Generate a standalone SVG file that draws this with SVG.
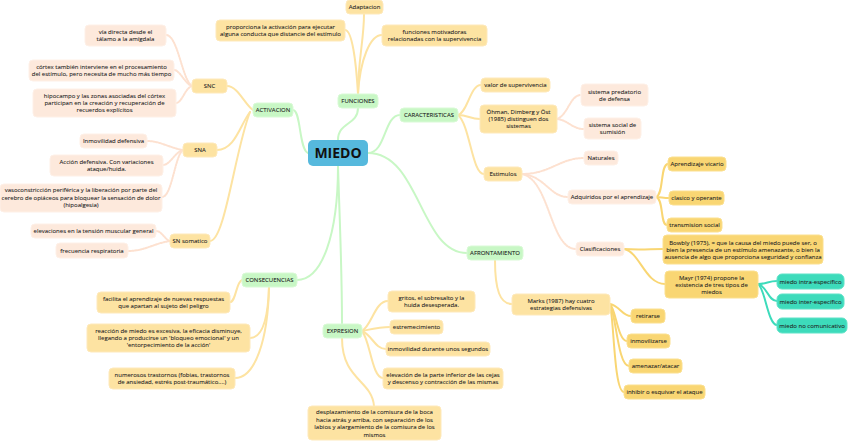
<svg xmlns="http://www.w3.org/2000/svg" width="848" height="441" viewBox="0 0 848 441">
<style>
.t{font-family:"Open Sans","Liberation Sans",sans-serif;font-size:6px;fill:#222;text-anchor:middle;stroke:#222;stroke-width:0.08}
.n1 rect{fill:#c8f7c5;stroke:#d9fad6;stroke-width:1}
.n2 rect{fill:#fde3a2;stroke:#fee9bb;stroke-width:1}
.n3 rect{fill:#fde9dc;stroke:#fef0e7;stroke-width:1}
.n4 rect{fill:#f9d673;stroke:#fbe090;stroke-width:1}
.n5 rect{fill:#3ddbbb;stroke:#5fe3c8;stroke-width:1}
.c path{fill:none;stroke-width:2;stroke-linecap:round}
.cg{stroke:#c8f7c5}
.co{stroke:#fde3a2}
.cp{stroke:#fde1d0;stroke-dasharray:1.5 1.2}
.cy{stroke:#f9d673}
.ct{stroke:#3ddbbb}
</style>
<rect width="848" height="441" fill="#fff"/>
<g id="connectors" class="c">
<path class="cg" d="M338 140 C338 122 358 125 358 108"/>
<path class="cg" d="M293 110 C301 110 299 150 308 153"/>
<path class="cg" d="M368 153 C386 153 384 115 400 115"/>
<path class="cg" d="M368 153 C420 153 420 253 467 253"/>
<path class="cg" d="M338 166 C338 235 322 280 297 280"/>
<path class="cg" d="M338 166 C340 230 342 270 342 324"/>
<path class="co" d="M358 94 C358 60 364 40 364 14"/>
<path class="co" d="M358 94 C356 60 352 30 345 30"/>
<path class="co" d="M358 94 C360 60 370 35 382 35"/>
<path class="co" d="M253 110 C245 105 238 86 227 86"/>
<path class="co" d="M250 112 C240 125 235 150 217 150"/>
<path class="co" d="M250 112 C235 150 225 241 210 241"/>
<path class="co" d="M458 115 C468 112 470 85 481 85"/>
<path class="co" d="M458 115 C468 115 470 119 480 119"/>
<path class="co" d="M458 115 C470 125 472 174 484 174"/>
<path class="co" d="M242 280 C236 282 236 302 230 302"/>
<path class="co" d="M269 287 C268 320 262 338 250 338"/>
<path class="co" d="M269 287 C268 340 255 378 235 378"/>
<path class="co" d="M362 331 C372 325 375 301 388 301"/>
<path class="co" d="M362 331 C372 329 380 327 390 327"/>
<path class="co" d="M362 331 C372 335 375 349 386 349"/>
<path class="co" d="M362 331 C370 340 372 378 383 378"/>
<path class="co" d="M342 338 C342 380 372 380 374 406"/>
<path class="co" d="M495 260 C495 290 500 304 512 304"/>
<path class="cp" d="M192 86 C182 80 178 35 166 35"/>
<path class="cp" d="M192 86 C185 84 180 70 174 70"/>
<path class="cp" d="M192 86 C185 88 182 103 176 103"/>
<path class="cp" d="M183 150 C170 148 160 141 147 141"/>
<path class="cp" d="M183 150 C175 152 170 165 163 165"/>
<path class="cp" d="M183 150 C175 155 172 197 162 197"/>
<path class="cp" d="M170 241 C165 240 162 231 156 231"/>
<path class="cp" d="M170 241 C155 243 145 251 128 251"/>
<path class="cp" d="M557 119 C568 115 570 95 581 95"/>
<path class="cp" d="M557 119 C568 120 572 129 584 129"/>
<path class="cp" d="M522 174 C550 174 560 158 584 158"/>
<path class="cp" d="M522 174 C545 176 550 197 568 197"/>
<path class="cp" d="M522 174 C550 180 550 249 576 249"/>
<path class="cy" d="M656 197 C664 195 660 164 668 164"/>
<path class="cy" d="M656 197 C660 197 664 198 669 198"/>
<path class="cy" d="M656 197 C664 199 660 225 667 225"/>
<path class="cy" d="M624 249 C640 250 650 249 663 249"/>
<path class="cy" d="M624 249 C640 252 645 284 665 284"/>
<path class="cy" d="M610 304 C620 306 622 316 631 316"/>
<path class="cy" d="M610 304 C616 310 618 341 627 341"/>
<path class="cy" d="M610 304 C616 315 618 366 629 366"/>
<path class="cy" d="M610 304 C614 320 614 392 624 392"/>
<path class="ct" d="M758 284 C767 284 768 281 777 281"/>
<path class="ct" d="M758 284 C767 286 768 301 777 301"/>
<path class="ct" d="M758 284 C765 288 768 325 777 325"/>
</g>
<g id="miedo"><rect x="308" y="140" width="60" height="26" rx="5" fill="#56b9dd"/><text x="338" y="158" style="font-family:'Open Sans','Liberation Sans',sans-serif;font-size:14px;font-weight:bold;fill:#111;text-anchor:middle">MIEDO</text></g>
<g id="funciones" class="n1"><rect x="338" y="94" width="40" height="14" rx="4"/><text class="t" x="358" y="103">FUNCIONES</text></g>
<g id="activacion" class="n1"><rect x="253" y="103" width="40" height="14" rx="4"/><text class="t" x="273" y="112">ACTIVACION</text></g>
<g id="caracteristicas" class="n1"><rect x="400" y="108" width="58" height="14" rx="4"/><text class="t" x="429" y="117">CARACTERISTICAS</text></g>
<g id="consecuencias" class="n1"><rect x="242" y="273" width="55" height="14" rx="4"/><text class="t" x="269.5" y="282">CONSECUENCIAS</text></g>
<g id="expresion" class="n1"><rect x="323" y="324" width="39" height="14" rx="4"/><text class="t" x="342.5" y="333">EXPRESION</text></g>
<g id="afrontamiento" class="n1"><rect x="467" y="246" width="56" height="14" rx="4"/><text class="t" x="495" y="255">AFRONTAMIENTO</text></g>
<g id="adaptacion" class="n2"><rect x="346" y="0" width="37" height="14" rx="4"/><text class="t" x="364.5" y="9">Adaptacion</text></g>
<g id="proporciona" class="n2"><rect x="216" y="20" width="129" height="21" rx="4"/><text class="t"><tspan x="280.5" y="29">proporciona la activación para ejecutar</tspan><tspan x="280.5" y="36">alguna conducta que distancie del estímulo</tspan></text></g>
<g id="motivadoras" class="n2"><rect x="382" y="25" width="105" height="21" rx="4"/><text class="t"><tspan x="434.5" y="34">funciones motivadoras</tspan><tspan x="434.5" y="41">relacionadas con la supervivencia</tspan></text></g>
<g id="snc" class="n2"><rect x="192" y="79" width="35" height="14" rx="4"/><text class="t" x="209.5" y="88">SNC</text></g>
<g id="sna" class="n2"><rect x="183" y="143" width="34" height="14" rx="4"/><text class="t" x="200" y="152">SNA</text></g>
<g id="snsomatico" class="n2"><rect x="170" y="234" width="40" height="14" rx="4"/><text class="t" x="190" y="243">SN somatico</text></g>
<g id="valor" class="n2"><rect x="481" y="78" width="69" height="14" rx="4"/><text class="t" x="515.5" y="87">valor de supervivencia</text></g>
<g id="ohman" class="n2"><rect x="480" y="105" width="77" height="28" rx="4"/><text class="t"><tspan x="518.5" y="114">Öhman, Dimberg y Öst</tspan><tspan x="518.5" y="121">(1985) distinguen dos</tspan><tspan x="518.5" y="128">sistemas</tspan></text></g>
<g id="estimulos" class="n2"><rect x="484" y="167" width="38" height="14" rx="4"/><text class="t" x="503" y="176">Estimulos</text></g>
<g id="facilita" class="n2"><rect x="97" y="292" width="133" height="21" rx="4"/><text class="t"><tspan x="163.5" y="301">facilita el aprendizaje de nuevas respuestas</tspan><tspan x="163.5" y="308">que apartan al sujeto del peligro</tspan></text></g>
<g id="reaccion" class="n2"><rect x="87" y="324" width="163" height="28" rx="4"/><text class="t"><tspan x="168.5" y="333">reacción de miedo es excesiva, la eficacia disminuye,</tspan><tspan x="168.5" y="340">llegando a producirse un 'bloqueo emocional' y un</tspan><tspan x="168.5" y="347">'entorpecimiento de la acción'</tspan></text></g>
<g id="numerosos" class="n2"><rect x="109" y="368" width="126" height="21" rx="4"/><text class="t"><tspan x="172" y="377">numerosos trastornos (fobias, trastornos</tspan><tspan x="172" y="384">de ansiedad, estrés post-traumático....)</tspan></text></g>
<g id="gritos" class="n2"><rect x="388" y="291" width="87" height="21" rx="4"/><text class="t"><tspan x="431.5" y="300">gritos, el sobresalto y la</tspan><tspan x="431.5" y="307">huida desesperada.</tspan></text></g>
<g id="estremecimiento" class="n2"><rect x="390" y="320" width="53" height="14" rx="4"/><text class="t" x="416.5" y="329">estremecimiento</text></g>
<g id="inmovilidad" class="n2"><rect x="386" y="342" width="104" height="14" rx="4"/><text class="t" x="438" y="351">inmovilidad durante unos segundos</text></g>
<g id="elevacion" class="n2"><rect x="383" y="368" width="120" height="21" rx="4"/><text class="t"><tspan x="443" y="377">elevación de la parte inferior de las cejas</tspan><tspan x="443" y="384">y descenso y contracción de las mismas</tspan></text></g>
<g id="desplazamiento" class="n2"><rect x="308" y="406" width="133" height="34" rx="4"/><text class="t"><tspan x="374.5" y="414">desplazamiento de la comisura de la boca</tspan><tspan x="374.5" y="421.5">hacia atrás y arriba, con separación de los</tspan><tspan x="374.5" y="429">labios y alargamiento de la comisura de los</tspan><tspan x="374.5" y="436.5">mismos</tspan></text></g>
<g id="marks" class="n2"><rect x="512" y="294" width="98" height="21" rx="4"/><text class="t"><tspan x="561" y="303">Marks (1987) hay cuatro</tspan><tspan x="561" y="310">estrategias defensivas</tspan></text></g>
<g id="via" class="n3"><rect x="85" y="25" width="81" height="21" rx="4"/><text class="t"><tspan x="125.5" y="34">vía directa desde el</tspan><tspan x="125.5" y="41">tálamo a la amígdala</tspan></text></g>
<g id="cortex" class="n3"><rect x="29" y="60" width="145" height="21" rx="4"/><text class="t"><tspan x="101.5" y="69">córtex también interviene en el procesamiento</tspan><tspan x="101.5" y="76">del estímulo, pero necesita de mucho más tiempo</tspan></text></g>
<g id="hipocampo" class="n3"><rect x="33" y="89" width="143" height="28" rx="4"/><text class="t"><tspan x="104.5" y="98">hipocampo y las zonas asociadas del córtex</tspan><tspan x="104.5" y="105">participan en la creación y recuperación de</tspan><tspan x="104.5" y="112">recuerdos explícitos</tspan></text></g>
<g id="inmovilidad-defensiva" class="n3"><rect x="80" y="134" width="67" height="14" rx="4"/><text class="t" x="113.5" y="143">Inmovilidad defensiva</text></g>
<g id="accion" class="n3"><rect x="50" y="155" width="113" height="21" rx="4"/><text class="t"><tspan x="106.5" y="164">Acción defensiva. Con variaciones</tspan><tspan x="106.5" y="171">ataque/huida.</tspan></text></g>
<g id="vasoconstriccion" class="n3"><rect x="0" y="184" width="162" height="28" rx="4"/><text class="t"><tspan x="81" y="192">vasoconstricción periférica y la liberación por parte del</tspan><tspan x="81" y="199.5">cerebro de opiáceos para bloquear la sensación de dolor</tspan><tspan x="81" y="207">(hipoalgesia)</tspan></text></g>
<g id="elevaciones" class="n3"><rect x="31" y="224" width="125" height="14" rx="4"/><text class="t" x="93.5" y="233">elevaciones en la tensión muscular general</text></g>
<g id="frecuencia" class="n3"><rect x="56" y="243" width="72" height="15" rx="4"/><text class="t" x="92" y="252.5">frecuencia respiratoria</text></g>
<g id="predatorio" class="n3"><rect x="581" y="84" width="67" height="22" rx="4"/><text class="t"><tspan x="614.5" y="93.5">sistema predatorio</tspan><tspan x="614.5" y="100.5">de defensa</tspan></text></g>
<g id="social" class="n3"><rect x="584" y="118" width="57" height="21" rx="4"/><text class="t"><tspan x="612.5" y="127">sistema social de</tspan><tspan x="612.5" y="134">sumisión</tspan></text></g>
<g id="naturales" class="n3"><rect x="584" y="151" width="34" height="14" rx="4"/><text class="t" x="601" y="160">Naturales</text></g>
<g id="adquiridos" class="n3"><rect x="568" y="190" width="88" height="14" rx="4"/><text class="t" x="612" y="199">Adquiridos por el aprendizaje</text></g>
<g id="clasificaciones" class="n3"><rect x="576" y="242" width="48" height="14" rx="4"/><text class="t" x="600" y="251">Clasificaciones</text></g>
<g id="vicario" class="n4"><rect x="668" y="157" width="58" height="14" rx="4"/><text class="t" x="697" y="166">Aprendizaje vicario</text></g>
<g id="clasico" class="n4"><rect x="669" y="191" width="55" height="14" rx="4"/><text class="t" x="696.5" y="200">clasico y operante</text></g>
<g id="transmision" class="n4"><rect x="667" y="218" width="55" height="14" rx="4"/><text class="t" x="694.5" y="227">transmision social</text></g>
<g id="bowbly" class="n4"><rect x="663" y="235" width="160" height="29" rx="4"/><text class="t"><tspan x="743" y="244.5">Bowbly (1973), = que la causa del miedo puede ser, o</tspan><tspan x="743" y="251.5">bien la presencia de un estímulo amenazante, o bien la</tspan><tspan x="743" y="258.5">ausencia de algo que proporciona seguridad y confianza</tspan></text></g>
<g id="mayr" class="n4"><rect x="665" y="271" width="93" height="27" rx="4"/><text class="t"><tspan x="711.5" y="279.5">Mayr (1974) propone la</tspan><tspan x="711.5" y="286.5">existencia de tres tipos de</tspan><tspan x="711.5" y="293.5">miedos</tspan></text></g>
<g id="retirarse" class="n4"><rect x="631" y="309" width="34" height="14" rx="4"/><text class="t" x="648" y="318">retirarse</text></g>
<g id="inmovilizarse" class="n4"><rect x="627" y="334" width="43" height="14" rx="4"/><text class="t" x="648.5" y="343">inmovilizarse</text></g>
<g id="amenazar" class="n4"><rect x="629" y="359" width="53" height="14" rx="4"/><text class="t" x="655.5" y="368">amenazar/atacar</text></g>
<g id="inhibir" class="n4"><rect x="624" y="385" width="81" height="14" rx="4"/><text class="t" x="664.5" y="394">inhibir o esquivar el ataque</text></g>
<g id="intra" class="n5"><rect x="777" y="274" width="67" height="15" rx="5"/><text class="t" x="810.5" y="283.5">miedo intra-específico</text></g>
<g id="inter" class="n5"><rect x="777" y="294" width="67" height="15" rx="5"/><text class="t" x="810.5" y="303.5">miedo inter-específico</text></g>
<g id="nocomunicativo" class="n5"><rect x="777" y="318" width="70" height="15" rx="5"/><text class="t" x="812" y="327.5">miedo no comunicativo</text></g>
</svg>
